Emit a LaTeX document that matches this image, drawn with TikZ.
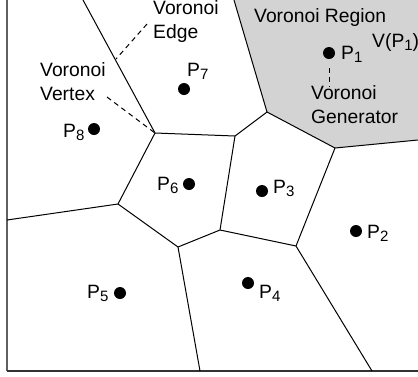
\documentclass[tikz,border=0pt]{standalone}
\usepackage{fontspec}
\setmainfont{Liberation Sans}
\newcommand\subd[1]{\raisebox{-3.5pt}{\fontsize{15}{15}\selectfont #1}}
\begin{document}
\begin{tikzpicture}[x=1pt,y=-1pt,
  edge/.style={line width=1pt,black},
  lbl/.style={inner sep=0pt,anchor=base west,font=\fontsize{19.3}{23.5}\selectfont},
  ml/.style={lbl,align=left,anchor=north west},
  dot/.style={circle,fill=black,inner sep=0pt,minimum size=12pt},
  dashline/.style={line width=1pt,dash pattern=on 5pt off 4pt}]
\useasboundingbox (0,0) rectangle (418,376);
% vertices
\coordinate (tA) at (83,0);
\coordinate (A) at (155,133);
\coordinate (B) at (235,136);
\coordinate (C) at (118,204);
\coordinate (lC) at (7,220);
\coordinate (D) at (178,247);
\coordinate (bD) at (200,371);
\coordinate (E) at (220,230);
\coordinate (F) at (296,246);
\coordinate (bF) at (372,371);
\coordinate (G) at (335,148);
\coordinate (rG) at (418,140);
\coordinate (H) at (267,112);
\coordinate (tH) at (234,0);
\coordinate (tr) at (418,0);
% region
\fill[fill={rgb,255:red,211;green,211;blue,211}] (H) -- (tH) -- (tr) -- (rG) -- (G) -- cycle;
% frame
\coordinate (fTL) at (7,0);
\coordinate (fBL) at (7,371);
\coordinate (fBR) at (418,371);
\draw[line width=2pt,gray!75!black] (fTL) -- (fBL);
\draw[line width=1.5pt,black!80] (fBL) -- (fBR);
% edges
\draw[edge] (tA) -- (A) -- (B) -- (H) -- (tH);
\draw[edge] (H) -- (G) -- (rG);
\draw[edge] (A) -- (C) -- (lC);
\draw[edge] (C) -- (D) -- (bD);
\draw[edge] (D) -- (E) -- (B);
\draw[edge] (E) -- (F) -- (bF);
\draw[edge] (F) -- (G);
% points
\node[dot] (p1) at (329,53) {};
\node[dot] (p2) at (356,231) {};
\node[dot] (p3) at (262,191) {};
\node[dot] (p4) at (248,283) {};
\node[dot] (p5) at (120,293) {};
\node[dot] (p6) at (189,184) {};
\node[dot] (p7) at (184,89) {};
\node[dot] (p8) at (94,129) {};
\node[lbl] (l1) at (341,59) {P\subd{1}};
\node[lbl] (l2) at (367,238) {P\subd{2}};
\node[lbl] (l3) at (273,193) {P\subd{3}};
\node[lbl] (l4) at (259,298) {P\subd{4}};
\node[lbl] (l5) at (87,298) {P\subd{5}};
\node[lbl] (l6) at (157,190) {P\subd{6}};
\node[lbl] (l7) at (187,76) {P\subd{7}};
\node[lbl] (l8) at (63,137) {P\subd{8}};
% texts
\node[lbl] (reg) at (254,22) {Voronoi Region};
\node[lbl] (vp1) at (372,47) {V(P\subd{1})};
\node[ml] (gen) at (311,85.5) {Voronoi\\Generator};
\node[ml] (edg) at (153,0.5) {Voronoi\\Edge};
\node[ml] (vtx) at (40,62.5) {Voronoi\\Vertex};
% dashed pointers
\coordinate (g1) at (329,68);
\coordinate (g2) at (329,87);
\draw[dashline] (g1) -- (g2);
\coordinate (e1) at (147,24);
\coordinate (e2) at (116,59);
\draw[dashline] (e1) -- (e2);
\coordinate (v1) at (107,97);
\draw[dashline] (v1) -- (A);
\end{tikzpicture}
\end{document}
